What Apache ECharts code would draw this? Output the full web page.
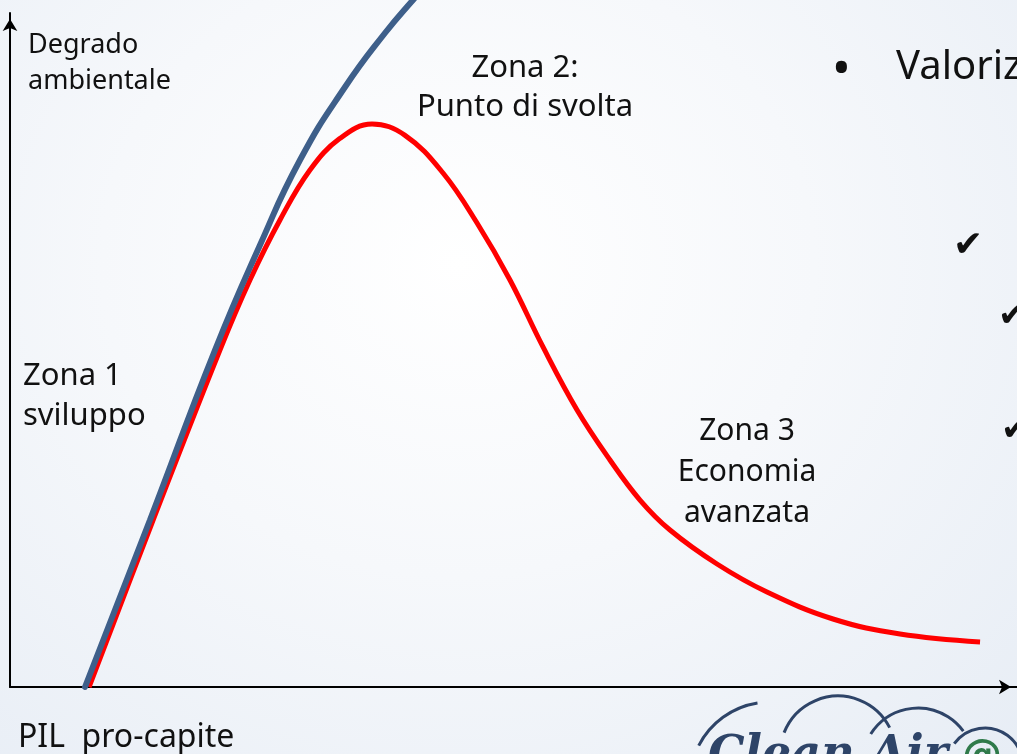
<!DOCTYPE html>
<html>
<head>
<meta charset="utf-8">
<script src="https://cdn.jsdelivr.net/npm/echarts@6/dist/echarts.min.js"></script>
<style>
  html, body { margin: 0; padding: 0; }
  body {
    width: 1017px; height: 754px; overflow: hidden;
    background: radial-gradient(ellipse at 45% 35%, #ffffff 0%, #f6f8fb 45%, #e7edf5 100%);
  }
  #chart { width: 1017px; height: 754px; }
</style>
</head>
<body>
<div id="chart"></div>
<script>
// environmental Kuznets sketch: PIL pro-capite on x, degrado ambientale on y (both 0..100)
var redX = [7.85, 14.10, 20.85, 23.83, 26.81, 29.79, 32.77, 35.95, 39.23, 43.00, 46.38, 49.65, 52.93, 56.31, 59.58, 62.56, 65.54, 70.21, 75.17, 81.73, 88.38, 96.33];
var redY = [0, 24.33, 50.00, 60.39, 69.29, 76.71, 81.40, 83.53, 81.85, 76.26, 68.84, 60.39, 50.45, 41.10, 33.68, 27.74, 23.29, 18.25, 14.09, 10.09, 7.86, 6.68];
var blueX = [7.45, 13.90, 20.36, 24.83, 28.80, 33.27, 37.24, 40.02, 42.70];
var blueY = [0, 24.78, 50.00, 65.58, 78.19, 89.02, 97.03, 101.93, 106.38];

function pairs(xs, ys) {
    var out = [];
    for (var i = 0; i < xs.length; i++) {
        out.push([xs[i], ys[i]]);
    }
    return out;
}

var font = '"Noto Sans", "Open Sans", sans-serif';
function label(txt, x, y, size, align, lh) {
    return {
        type: 'text', x: x, y: y,
        style: { text: txt, font: size + 'px ' + font, fill: '#111', align: align || 'left', verticalAlign: 'top', lineHeight: lh || size * 1.3 }
    };
}

var myChart = echarts.init(document.getElementById('chart'));
var option = {
    backgroundColor: 'transparent',
    animation: false,
    grid: { left: 10, right: 0, top: 13, bottom: 67 },
    xAxis: {
        type: 'value', min: 0, max: 100,
        axisLine: { show: true, symbol: ['none', 'arrow'], symbolSize: [11, 12], symbolOffset: [0, -6], lineStyle: { color: '#000', width: 2 } },
        axisTick: { show: false }, axisLabel: { show: false }, splitLine: { show: false }
    },
    yAxis: {
        type: 'value', min: 0, max: 100,
        axisLine: { show: true, symbol: ['none', 'arrow'], symbolSize: [11, 12], symbolOffset: [0, -6], lineStyle: { color: '#000', width: 2 } },
        axisTick: { show: false }, axisLabel: { show: false }, splitLine: { show: false }
    },
    series: [
        {
            name: 'curva reale', type: 'line', smooth: 0.4, showSymbol: false, clip: false,
            lineStyle: { color: '#ff0000', width: 5 },
            data: pairs(redX, redY)
        },
        {
            name: 'senza svolta', type: 'line', smooth: 0.5, showSymbol: false, clip: false,
            lineStyle: { color: '#3e5f8a', width: 6, cap: 'round' },
            data: pairs(blueX, blueY)
        }
    ],
    graphic: [
        label('Degrado\nambientale', 28, 27, 27, 'left', 36),
        label('Zona 2:\nPunto di svolta', 525, 49, 31, 'center', 39),
        label('Zona 1\nsviluppo', 23, 356, 31, 'left', 40),
        label('Zona 3\nEconomia\navanzata', 747, 411, 30, 'center', 41),
        label('PIL  pro-capite', 18, 717, 32),
        label('\u2022', 832, 38, 50),
        label('Valoriz', 896, 42, 40),
        label('\u2714', 953, 222, 36),
        label('\u2714', 998, 294, 34),
        label('\u2714', 1001, 408, 34),
        {
            type: 'group',
            children: [
                { type: 'arc', shape: { cx: 770, cy: 782, r: 80, startAngle: Math.PI * 1.15, endAngle: Math.PI * 1.45 }, style: { stroke: '#2e4468', lineWidth: 3, fill: null } },
                { type: 'arc', shape: { cx: 838, cy: 754, r: 58, startAngle: Math.PI * 1.12, endAngle: Math.PI * 1.85 }, style: { stroke: '#2e4468', lineWidth: 3, fill: null } },
                { type: 'arc', shape: { cx: 918, cy: 764, r: 56, startAngle: Math.PI * 1.18, endAngle: Math.PI * 1.8 }, style: { stroke: '#2e4468', lineWidth: 3, fill: null } },
                { type: 'arc', shape: { cx: 985, cy: 766, r: 38, startAngle: Math.PI * 1.2, endAngle: Math.PI * 1.9 }, style: { stroke: '#2e4468', lineWidth: 3, fill: null } },
                { type: 'text', x: 708, y: 733, style: { text: 'Clean Air', font: 'italic bold 46px "DejaVu Serif", serif', fill: '#2e4468' } },
                { type: 'text', x: 962, y: 738, style: { text: '@', font: 'bold 40px "DejaVu Sans", sans-serif', fill: '#2f7a4a' } }
            ]
        }
    ]
};
myChart.setOption(option);
</script>
</body>
</html>
